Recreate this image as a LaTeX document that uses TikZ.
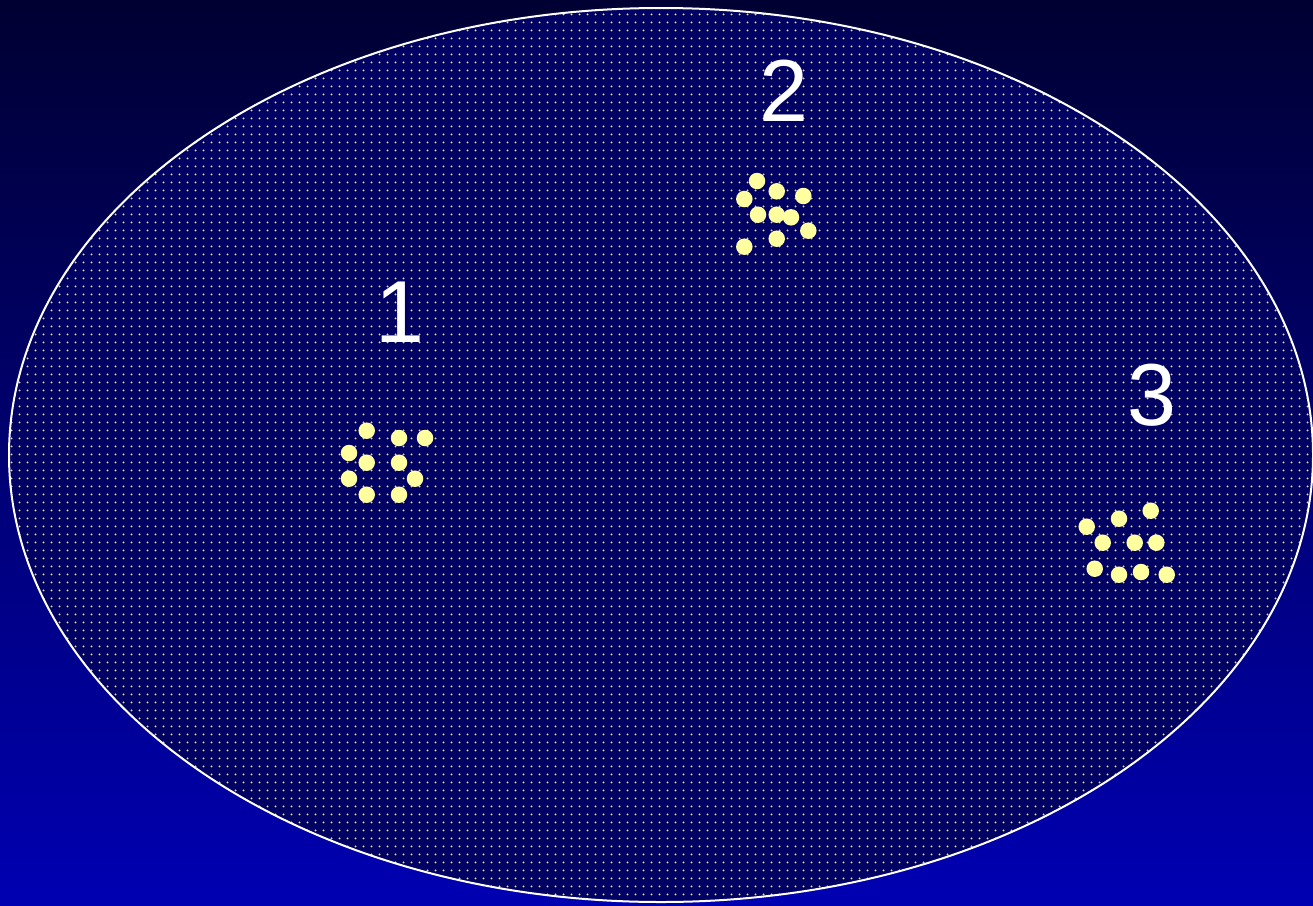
\documentclass[tikz,border=0pt]{standalone}
\usepackage{fontspec}
\setmainfont{Liberation Sans}
\usetikzlibrary{patterns}
\definecolor{bgtop}{RGB}{0,0,50}
\definecolor{bgbot}{RGB}{0,0,178}
\definecolor{ellfill}{RGB}{0,0,100}
\definecolor{patdot}{RGB}{215,215,185}
\definecolor{dotyellow}{RGB}{255,255,160}
\pgfdeclarepatternformonly{finedots}{\pgfpointorigin}{\pgfqpoint{8pt}{8pt}}{\pgfqpoint{8pt}{8pt}}{%
  \pgfpathcircle{\pgfqpoint{4pt}{4pt}}{1.2pt}\pgfusepath{fill}}
\tikzset{
  lbl/.style={text=white, font=\fontsize{88}{88}\selectfont, inner sep=0pt},
  ydot/.style={circle, fill=dotyellow, inner sep=0pt, minimum size=16.5pt}
}
\begin{document}
\begin{tikzpicture}[x=1pt,y=-1pt]
\useasboundingbox (0,0) rectangle (1313,905);
\shade[top color=bgtop, bottom color=bgbot] (0,0) rectangle (1313,905);
\fill[ellfill] (661,455) ellipse [x radius=652, y radius=447];
\fill[pattern=finedots, pattern color=patdot] (661,455) ellipse [x radius=652, y radius=447];
\draw[white, line width=2pt] (661,455) ellipse [x radius=652, y radius=447];
\node[lbl] (l1) at (400,312) {1};
\node[lbl] (l2) at (784,91) {2};
\node[lbl] (l3) at (1152,395) {3};
\foreach \x/\y [count=\i] in {366.7/430.7, 399/438, 425/438, 349/453, 366.7/462.7, 399/462.7, 349/478.7, 415/478.7, 366.7/494.7, 399/494.7}
  \node[ydot] (a\i) at (\x,\y) {};
\foreach \x/\y [count=\i] in {757/181, 776.7/191.3, 744.3/199, 803.3/196, 758/214.7, 776.7/214.7, 791/217.3, 808.3/230.7, 776.7/238.7, 744.3/246.7}
  \node[ydot] (b\i) at (\x,\y) {};
\foreach \x/\y [count=\i] in {1150.7/510.7, 1119/518.7, 1086.7/526.7, 1102.7/542.7, 1134.7/542.7, 1156.3/542.7, 1094.7/568.7, 1119/574.7, 1141/572, 1166.7/574.7}
  \node[ydot] (c\i) at (\x,\y) {};
\end{tikzpicture}
\end{document}
